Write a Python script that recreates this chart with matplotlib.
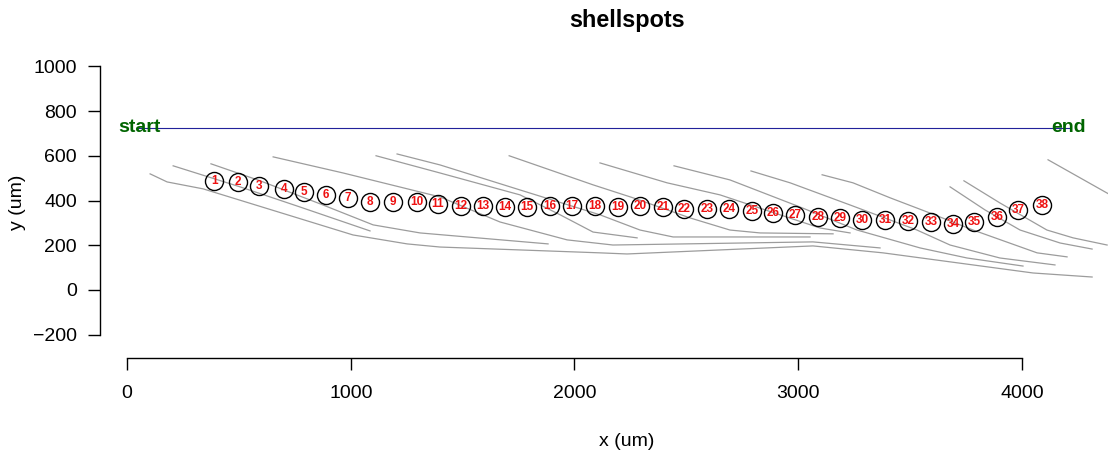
import matplotlib
matplotlib.use("Agg")
import matplotlib.pyplot as plt

plt.rcParams['font.family'] = ['Liberation Sans', 'DejaVu Sans']

# spot centres (um)
spot_x = [389, 496, 590, 702, 791, 890, 988, 1086, 1189, 1296,
          1390, 1493, 1591, 1690, 1788, 1891, 1989, 2092, 2195, 2293,
          2396, 2490, 2593, 2691, 2794, 2888, 2986, 3089, 3187, 3286,
          3389, 3491, 3594, 3692, 3786, 3889, 3983, 4090]
spot_y = [486, 483, 465, 452, 438, 425, 412, 394, 394, 394,
          385, 376, 376, 371, 371, 376, 376, 376, 371, 376,
          371, 362, 362, 362, 353, 345, 336, 327, 322, 313,
          313, 309, 304, 295, 304, 327, 358, 380]
spot_labels = [str(i) for i in range(1, 39)]

# growth lines (um)
line1_x = [103, 179, 340, 1010, 1252, 1399, 2114, 2235, 3066, 3379, 4050, 4314]
line1_y = [519, 483, 452, 246, 206, 192, 166, 161, 197, 166, 76, 58]
line2_x = [206, 505, 773, 1086]
line2_y = [555, 461, 371, 264]
line3_x = [375, 595, 863, 1100, 1310, 1882]
line3_y = [564, 488, 385, 291, 255, 206]
line4_x = [653, 966, 1399, 1667, 1967, 2172, 3066, 3366]
line4_y = [595, 523, 416, 304, 224, 201, 215, 188]
line5_x = [1113, 1399, 1757, 1936, 2083, 2280]
line5_y = [600, 523, 425, 336, 259, 233]
line6_x = [1207, 1399, 1757, 2114, 2293, 2441, 3053]
line6_y = [608, 559, 447, 336, 268, 237, 237]
line7_x = [1708, 2083, 2262, 2517, 2695, 2830, 3156]
line7_y = [600, 470, 412, 322, 268, 255, 251]
line8_x = [2114, 2414, 2651, 2919, 3098, 3232]
line8_y = [568, 479, 425, 336, 277, 255]
line9_x = [2445, 2695, 3008, 3263, 3545, 3755, 4005]
line9_y = [555, 492, 371, 268, 188, 143, 107]
line10_x = [2789, 2964, 3232, 3531, 3679, 3902, 4148]
line10_y = [532, 479, 380, 268, 201, 143, 112]
line11_x = [3107, 3245, 3411, 3589, 3782, 4068, 4202]
line11_y = [515, 479, 412, 344, 268, 166, 148]
line12_x = [3679, 3835, 3992, 4171, 4314]
line12_y = [461, 358, 268, 210, 183]
line13_x = [3741, 3902, 4112, 4229, 4381]
line13_y = [488, 389, 268, 233, 201]
line14_x = [4117, 4440]
line14_y = [582, 400]

lines = [(line1_x, line1_y), (line2_x, line2_y), (line3_x, line3_y),
         (line4_x, line4_y), (line5_x, line5_y), (line6_x, line6_y),
         (line7_x, line7_y), (line8_x, line8_y), (line9_x, line9_y),
         (line10_x, line10_y), (line11_x, line11_y), (line12_x, line12_y),
         (line13_x, line13_y), (line14_x, line14_y)]

# start / end of the transect
start_xy = (54, 725)
end_xy = (4210, 725)

x_ticks = [0, 1000, 2000, 3000, 4000]
y_ticks = [-200, 0, 200, 400, 600, 800, 1000]

W, H = 1108, 455
fig = plt.figure(figsize=(W / 100, H / 100), dpi=100)
ax = fig.add_axes([100 / W, (H - 358) / H, 1 - 100 / W, (358 - 43) / H])
ax.set_xlim(-121, 4385)
ax.set_ylim(-304, 1104)

for xs, ys in lines:
    ax.plot(xs, ys, color='#9C9C9C', lw=0.9, zorder=1)

ax.plot([start_xy[0], end_xy[0]], [start_xy[1], end_xy[1]],
        color='#22229A', lw=0.8, zorder=2)
ax.text(start_xy[0], start_xy[1], 'start', color='#006400', fontsize=14,
        fontweight='bold', ha='center', va='center', zorder=3)
ax.text(end_xy[0], end_xy[1], 'end', color='#006400', fontsize=14,
        fontweight='bold', ha='center', va='center', zorder=3)

ax.plot(spot_x, spot_y, 'o', ms=13, mfc='none', mec='black', mew=1.0, zorder=4)
for x, y, lab in zip(spot_x, spot_y, spot_labels):
    ax.text(x, y, lab, color='#EE1111', fontsize=8.5, fontweight='bold',
            ha='center', va='center', zorder=5)

# R-like axes
for s in ['top', 'right']:
    ax.spines[s].set_visible(False)
ax.spines['left'].set_bounds(-200, 1000)
ax.spines['bottom'].set_bounds(0, 4000)
ax.spines['left'].set_linewidth(1.0)
ax.spines['bottom'].set_linewidth(1.0)
ax.set_xticks(x_ticks)
ax.set_yticks(y_ticks)
ax.set_yticklabels(['\u2212200', '0', '200', '400', '600', '800', '1000'])
ax.tick_params(axis='x', length=8.6, width=1.0, pad=11, labelsize=14)
ax.tick_params(axis='y', length=8.6, width=1.0, pad=8, labelsize=14)

fig.text(627 / W, 1 - 20 / H, 'shellspots', fontsize=16.8, fontweight='bold',
         ha='center', va='center')
fig.text(627 / W, 1 - 441 / H, 'x (um)', fontsize=14, ha='center', va='center')
fig.text(18 / W, 1 - 202 / H, 'y (um)', fontsize=14, ha='center', va='center',
         rotation=90)

fig.savefig('out.png', dpi=100)
